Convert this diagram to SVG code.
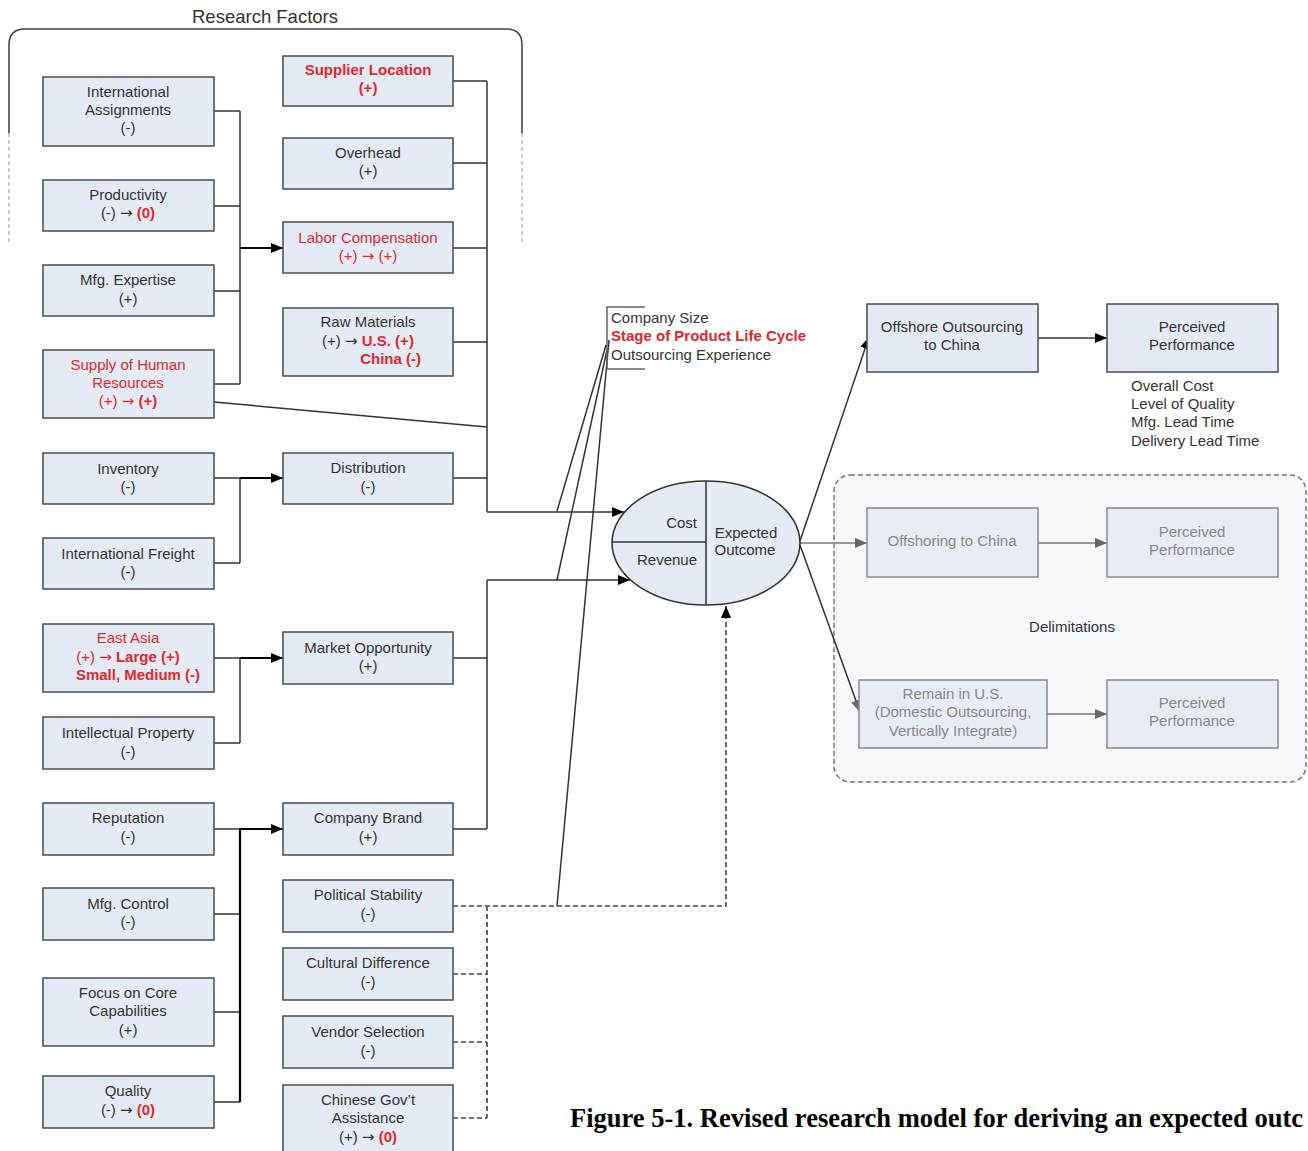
<svg xmlns="http://www.w3.org/2000/svg" width="1308" height="1151" viewBox="0 0 1308 1151">
<style>
text{font-family:"Liberation Sans",Arial,sans-serif;font-size:15px;fill:#333;text-anchor:middle}
.box{fill:#e5ebf4;stroke:#555;stroke-width:1.6}
.gbox{fill:#e8edf5;stroke:#888;stroke-width:1.5}
.g{fill:#888}
.r{fill:#e0282e}
.b{font-weight:bold}
.ar{font-family:"DejaVu Sans",sans-serif;font-size:15px}
.ln{fill:none;stroke:#333;stroke-width:1.5}
.thick{fill:none;stroke:#000;stroke-width:2.2}
.dash{fill:none;stroke:#444;stroke-width:1.6;stroke-dasharray:5,3}
.gl{fill:none;stroke:#777;stroke-width:1.5}
.left{text-anchor:start}
</style>
<defs>
<marker id="ah" markerWidth="12" markerHeight="10" refX="12" refY="5" orient="auto" markerUnits="userSpaceOnUse"><path d="M0,0 L12,5 L0,10 z" fill="#000"/></marker>
<marker id="ahg" markerWidth="12" markerHeight="10" refX="12" refY="5" orient="auto" markerUnits="userSpaceOnUse"><path d="M0,0 L12,5 L0,10 z" fill="#666"/></marker>
</defs>
<rect width="1308" height="1151" fill="#fff"/>

<g id="research-factors-frame">
<text x="265" y="23" style="font-size:18.5px">Research Factors</text>
<path d="M9,133 L9,45 Q9,29 25,29 L506,29 Q522,29 522,45 L522,133" fill="none" stroke="#444" stroke-width="1.6"/>
<path d="M9,133 L9,245 M522,133 L522,245" fill="none" stroke="#bbb" stroke-width="1.5" stroke-dasharray="4,3"/>
</g>

<g id="delimitations-frame">
<rect x="834" y="475" width="472" height="307" rx="16" fill="#f6f8fb" stroke="#777" stroke-width="1.5" stroke-dasharray="5,3"/>
<text x="1072" y="632">Delimitations</text>
</g>

<g id="connectors">
<path class="ln" d="M214,111 H240 M214,206 H240 M214,291 H240 M214,384 H240 M240,111 V384"/>
<path class="thick" d="M240,248 H283" marker-end="url(#ah)"/>
<path class="ln" d="M214,402 L487,427"/>
<path class="ln" d="M453,81 H487 M453,163 H487 M453,248 H487 M453,342 H487 M453,478 H487 M487,81 V512"/>
<path class="ln" d="M487,512 H624" marker-end="url(#ah)"/>
<path class="ln" d="M214,478 H240 M214,563 H240 M240,478 V563"/>
<path class="thick" d="M240,478 H283" marker-end="url(#ah)"/>
<path class="ln" d="M214,658 H240 M214,743 H240 M240,658 V743"/>
<path class="thick" d="M240,658 H283" marker-end="url(#ah)"/>
<path class="ln" d="M453,658 H487 M453,829 H487 M487,580 V829"/>
<path class="ln" d="M487,580 H630" marker-end="url(#ah)"/>
<path class="ln" d="M214,829 H240 M214,914 H240 M214,1012 H240 M214,1102 H240"/>
<path class="thick" d="M240,1102 V829 H283" marker-end="url(#ah)"/>
<path class="dash" d="M453,906 H726 V606" marker-end="url(#ah)"/>
<path class="dash" d="M453,974 H487 M453,1042 H487 M453,1118 H487 M487,906 V1118"/>
<path class="ln" d="M557,511 L606,345 M557,580 L607,350 M557,906 L609,340" stroke-width="1.3"/>
<path class="ln" d="M800,541 L869,337" marker-end="url(#ah)"/>
<path class="ln" d="M1038,338 H1107" marker-end="url(#ah)"/>
<path class="gl" d="M800,543 H867" marker-end="url(#ahg)"/>
<path class="gl" d="M1038,543 H1107" marker-end="url(#ahg)"/>
<path class="ln" d="M800,545 L860,712" stroke="#555" marker-end="url(#ahg)"/>
<path class="gl" d="M1047,714 H1107" marker-end="url(#ahg)"/>
</g>

<g id="moderators">
<path d="M645,307 H607 V369 H645" fill="none" stroke="#666" stroke-width="1.5"/>
<text class="left" x="611" y="323">Company Size</text>
<text class="left r b" x="611" y="341">Stage of Product Life Cycle</text>
<text class="left" x="611" y="360">Outsourcing Experience</text>
</g>

<g id="n-intl-assign"><rect class="box" x="43" y="77" width="171" height="69"/><text x="128" y="97">International</text><text x="128" y="115">Assignments</text><text x="128" y="133">(-)</text></g>
<g id="n-productivity"><rect class="box" x="43" y="180" width="171" height="51"/><text x="128" y="200">Productivity</text><text x="128" y="218">(-) <tspan class="ar">→</tspan> <tspan class="r b">(0)</tspan></text></g>
<g id="n-mfg-expertise"><rect class="box" x="43" y="265" width="171" height="51"/><text x="128" y="285">Mfg. Expertise</text><text x="128" y="304">(+)</text></g>
<g id="n-supply-hr"><rect class="box" x="43" y="350" width="171" height="68"/><text class="r" x="128" y="370">Supply of Human</text><text class="r" x="128" y="388">Resources</text><text class="r" x="128" y="406">(+) <tspan class="ar r">→</tspan> <tspan class="b">(+)</tspan></text></g>
<g id="n-inventory"><rect class="box" x="43" y="453" width="171" height="51"/><text x="128" y="474">Inventory</text><text x="128" y="492">(-)</text></g>
<g id="n-intl-freight"><rect class="box" x="43" y="538" width="171" height="51"/><text x="128" y="559">International Freight</text><text x="128" y="577">(-)</text></g>
<g id="n-east-asia"><rect class="box" x="43" y="624" width="171" height="68"/><text class="r" x="128" y="643">East Asia</text><text class="r" x="128" y="662">(+) <tspan class="ar r">→</tspan> <tspan class="b">Large (+)</tspan></text><text class="r b" x="138" y="680">Small, Medium (-)</text></g>
<g id="n-ip"><rect class="box" x="43" y="717" width="171" height="52"/><text x="128" y="738">Intellectual Property</text><text x="128" y="757">(-)</text></g>
<g id="n-reputation"><rect class="box" x="43" y="803" width="171" height="52"/><text x="128" y="823">Reputation</text><text x="128" y="842">(-)</text></g>
<g id="n-mfg-control"><rect class="box" x="43" y="888" width="171" height="52"/><text x="128" y="909">Mfg. Control</text><text x="128" y="927">(-)</text></g>
<g id="n-focus"><rect class="box" x="43" y="978" width="171" height="68"/><text x="128" y="998">Focus on Core</text><text x="128" y="1016">Capabilities</text><text x="128" y="1035">(+)</text></g>
<g id="n-quality"><rect class="box" x="43" y="1076" width="171" height="52"/><text x="128" y="1096">Quality</text><text x="128" y="1115">(-) <tspan class="ar">→</tspan> <tspan class="r b">(0)</tspan></text></g>

<g id="n-supplier-location"><rect class="box" x="283" y="56" width="170" height="50"/><text class="r b" x="368" y="75">Supplier Location</text><text class="r b" x="368" y="93">(+)</text></g>
<g id="n-overhead"><rect class="box" x="283" y="138" width="170" height="51"/><text x="368" y="158">Overhead</text><text x="368" y="176">(+)</text></g>
<g id="n-labor"><rect class="box" x="283" y="222" width="170" height="51"/><text class="r" x="368" y="243">Labor Compensation</text><text class="r" x="368" y="261">(+) <tspan class="ar r">→</tspan> (+)</text></g>
<g id="n-raw"><rect class="box" x="283" y="308" width="170" height="68"/><text x="368" y="327">Raw Materials</text><text x="368" y="346">(+) <tspan class="ar">→</tspan> <tspan class="r b">U.S. (+)</tspan></text><text class="r b" x="421" y="364" style="text-anchor:end">China (-)</text></g>
<g id="n-distribution"><rect class="box" x="283" y="453" width="170" height="51"/><text x="368" y="473">Distribution</text><text x="368" y="492">(-)</text></g>
<g id="n-market"><rect class="box" x="283" y="632" width="170" height="52"/><text x="368" y="653">Market Opportunity</text><text x="368" y="671">(+)</text></g>
<g id="n-brand"><rect class="box" x="283" y="803" width="170" height="52"/><text x="368" y="823">Company Brand</text><text x="368" y="842">(+)</text></g>
<g id="n-political"><rect class="box" x="283" y="880" width="170" height="52"/><text x="368" y="900">Political Stability</text><text x="368" y="919">(-)</text></g>
<g id="n-cultural"><rect class="box" x="283" y="948" width="170" height="52"/><text x="368" y="968">Cultural Difference</text><text x="368" y="987">(-)</text></g>
<g id="n-vendor"><rect class="box" x="283" y="1016" width="170" height="52"/><text x="368" y="1037">Vendor Selection</text><text x="368" y="1056">(-)</text></g>
<g id="n-govt"><rect class="box" x="283" y="1085" width="170" height="70"/><text x="368" y="1105">Chinese Gov’t</text><text x="368" y="1123">Assistance</text><text x="368" y="1142">(+) <tspan class="ar">→</tspan> <tspan class="r b">(0)</tspan></text></g>

<g id="n-outcome">
<ellipse cx="706" cy="543" rx="94" ry="62" fill="#e5ebf4" stroke="#333" stroke-width="1.6"/>
<path d="M706,481 V605 M612,542 H706" fill="none" stroke="#333" stroke-width="1.5"/>
<text x="697" y="528" style="text-anchor:end">Cost</text>
<text x="667" y="565">Revenue</text>
<text x="746" y="538">Expected</text>
<text x="745" y="555">Outcome</text>
</g>

<g id="n-offshore"><rect class="box" x="867" y="304" width="171" height="68"/><text x="952" y="332">Offshore Outsourcing</text><text x="952" y="350">to China</text></g>
<g id="n-perf1"><rect class="box" x="1107" y="304" width="171" height="68"/><text x="1192" y="332">Perceived</text><text x="1192" y="350">Performance</text></g>
<g id="measures">
<text class="left" x="1131" y="391">Overall Cost</text>
<text class="left" x="1131" y="409">Level of Quality</text>
<text class="left" x="1131" y="427">Mfg. Lead Time</text>
<text class="left" x="1131" y="446">Delivery Lead Time</text>
</g>
<g id="n-offshoring"><rect class="gbox" x="867" y="508" width="171" height="69"/><text class="g" x="952" y="546">Offshoring to China</text></g>
<g id="n-perf2"><rect class="gbox" x="1107" y="508" width="171" height="69"/><text class="g" x="1192" y="537">Perceived</text><text class="g" x="1192" y="555">Performance</text></g>
<g id="n-remain"><rect class="gbox" x="859" y="680" width="188" height="68"/><text class="g" x="953" y="699">Remain in U.S.</text><text class="g" x="953" y="717">(Domestic Outsourcing,</text><text class="g" x="953" y="736">Vertically Integrate)</text></g>
<g id="n-perf3"><rect class="gbox" x="1107" y="680" width="171" height="68"/><text class="g" x="1192" y="708">Perceived</text><text class="g" x="1192" y="726">Performance</text></g>

<text transform="translate(570,1127) scale(1,1.18)" x="0" y="0" style="font-family:'Liberation Serif','Times New Roman',serif;font-weight:bold;font-size:23.5px;text-anchor:start;fill:#000" textLength="733" lengthAdjust="spacingAndGlyphs">Figure 5-1. Revised research model for deriving an expected outc</text>
</svg>
